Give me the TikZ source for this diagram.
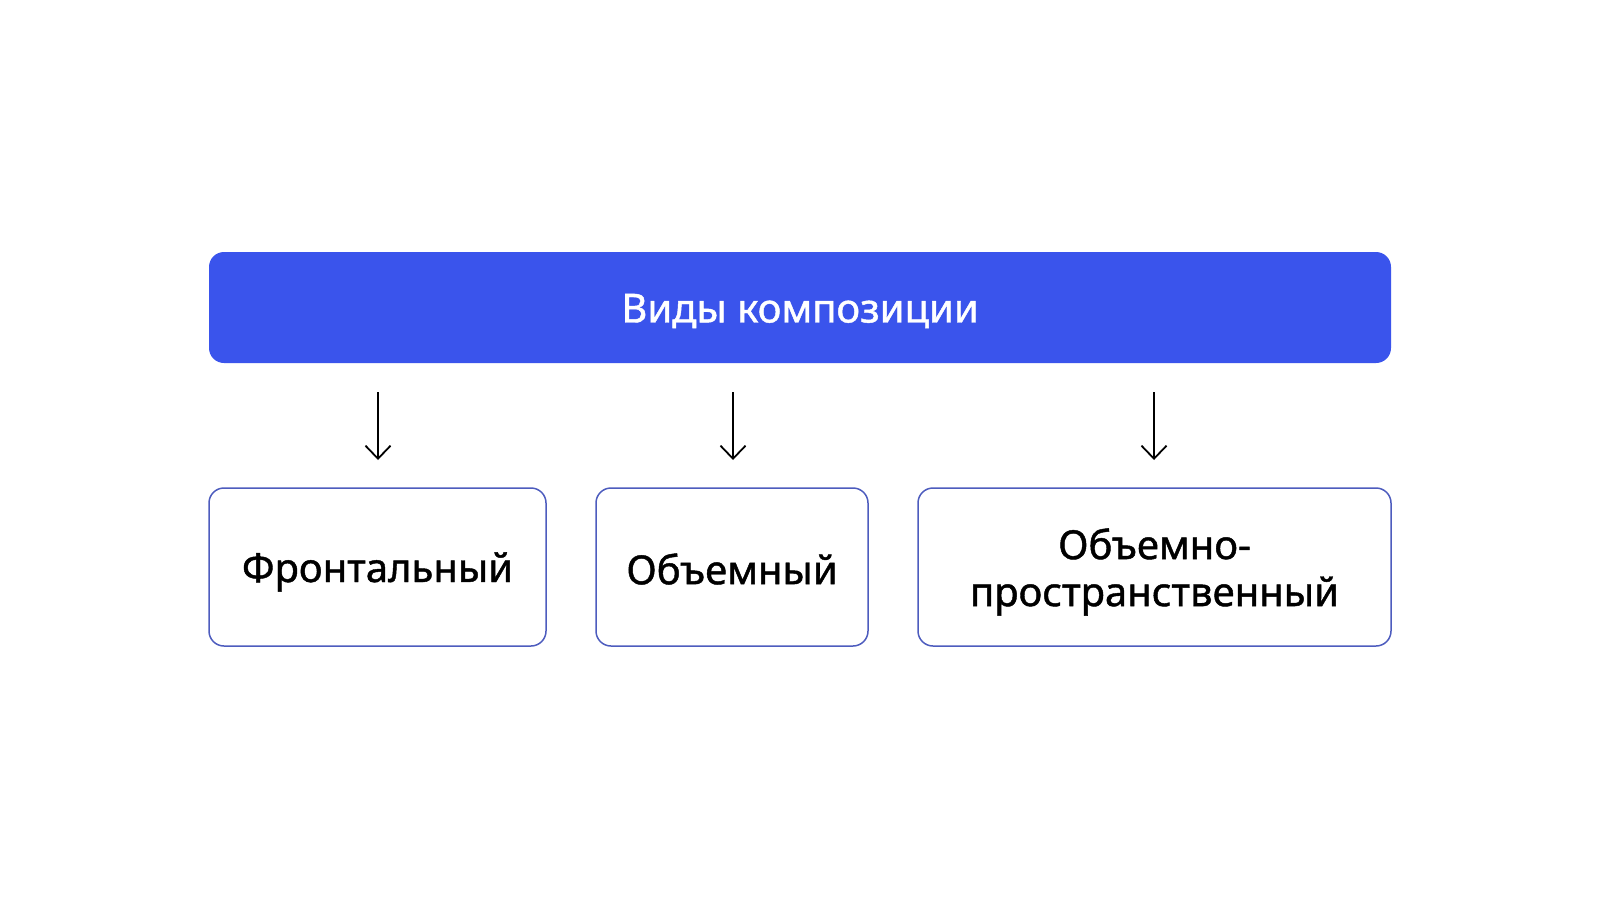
\documentclass[tikz,border=0pt]{standalone}
\usepackage{fontspec}
\setmainfont{Noto Sans}
\newfontfamily\medfont[FakeBold=1.1]{Noto Sans}
\usetikzlibrary{arrows.meta}
\definecolor{topblue}{HTML}{3A54EC}
\definecolor{boxline}{HTML}{4D5CBE}
\tikzset{
  px/.style={x=0.5pt,y=-0.5pt},
  topbox/.style={fill=topblue,draw=none,rounded corners=7.5pt},
  subbox/.style={draw=boxline,line width=0.75pt,fill=white,rounded corners=7.5pt},
  lbl/.style={font=\medfont\fontsize{20}{23.5}\selectfont,align=center,text=black},
  toplbl/.style={font=\medfont\fontsize{20}{23.5}\selectfont,text=white},
  arr/.style={line width=0.9pt,-{Straight Barb[length=6.5pt,width=12.5pt,line width=0.9pt]}}
}
\begin{document}
\begin{tikzpicture}[px]
\path[use as bounding box,fill=white] (0,0) rectangle (1600,900);
\fill[topbox] (209,252) rectangle (1391,363);
\node[toplbl] (top) at (800,311) {Виды композиции};
\draw[subbox] (209,488) rectangle (546,646);
\draw[subbox] (596,488) rectangle (868,646);
\draw[subbox] (918,488) rectangle (1391,646);
\node[lbl] (b1) at (377.5,572) {Фронтальный};
\node[lbl] (b2) at (732,569) {Объемный};
\node[lbl] (b3) at (1154.5,572) {Объемно-\\пространственный};
\coordinate (a1s) at (378,392); \coordinate (a1e) at (378,460);
\coordinate (a2s) at (733,392); \coordinate (a2e) at (733,460);
\coordinate (a3s) at (1154,392); \coordinate (a3e) at (1154,460);
\draw[arr] (a1s) -- (a1e);
\draw[arr] (a2s) -- (a2e);
\draw[arr] (a3s) -- (a3e);
\end{tikzpicture}
\end{document}
